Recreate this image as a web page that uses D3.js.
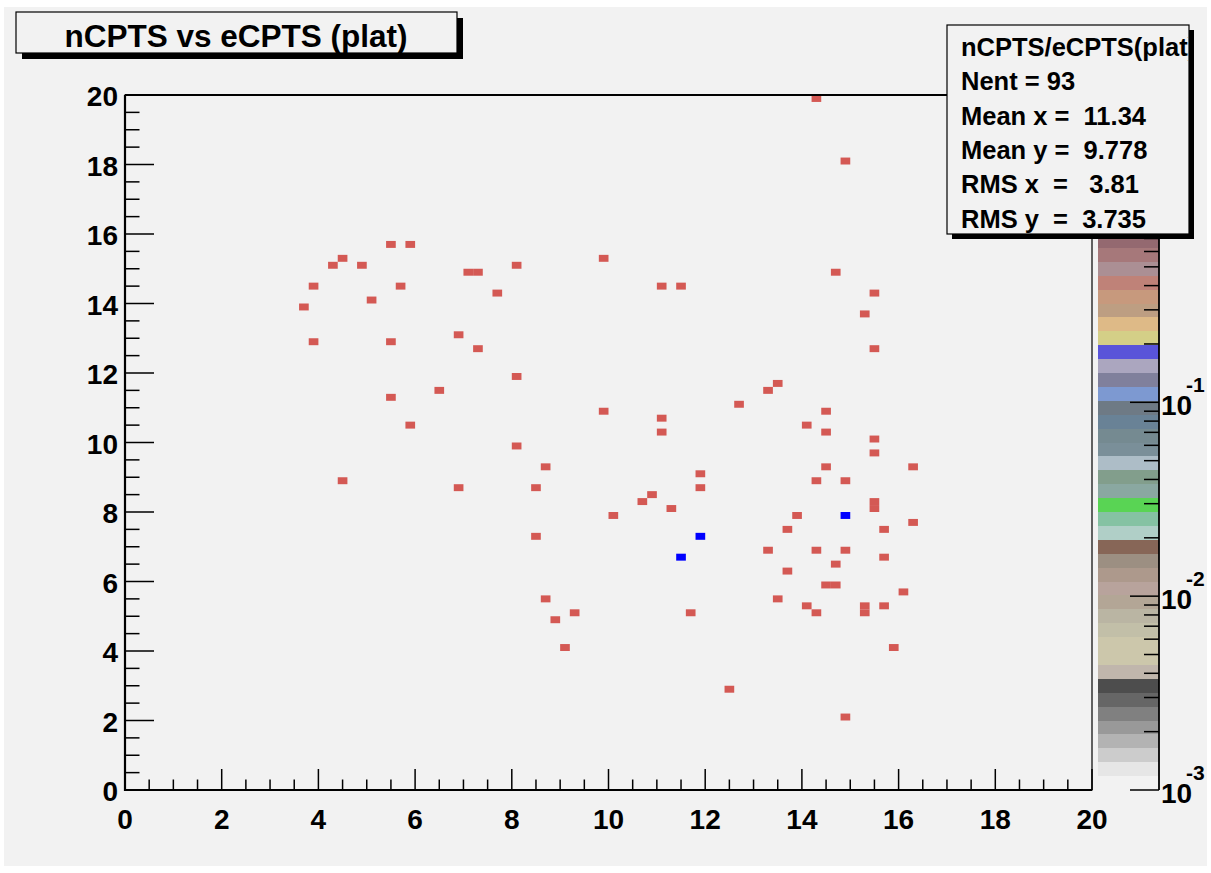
<!DOCTYPE html>
<html><head><meta charset="utf-8">
<script src="https://cdn.jsdelivr.net/npm/d3@7"></script>
<style>
body{margin:0;background:#fff}
text{font-family:"Liberation Sans",Arial,Helvetica,sans-serif;font-weight:bold;fill:#000}
</style>
</head><body>
<svg id="c" width="1211" height="873"></svg>
<script>
// ---- data: bin centres (bin width 0.2 x 0.2) and bin contents ----
const binX = [5.5,5.9,4.5,4.3,4.9,7.1,7.3,8.1,9.9,3.9,5.7,5.1,3.7,7.7,6.9,3.9,5.5,7.3,8.1,6.5,5.5,9.9,5.9,8.1,8.7,4.5,6.9,8.5,
  14.7,11.1,11.5,15.5,15.3,15.5,13.5,13.3,12.7,14.5,11.1,14.1,11.1,14.5,15.5,15.5,14.5,16.3,11.9,11.9,14.3,14.9,10.9,
  10.7,11.3,15.5,15.5,10.1,13.9,16.3,13.7,15.7,8.5,13.3,14.3,14.9,14.7,15.7,13.7,14.5,14.7,16.1,8.7,13.5,14.1,14.3,15.3,15.3,15.7,9.3,11.7,8.9,9.1,15.9,12.5,14.9,
  14.3,14.9,
  14.9,11.9,11.5];
const binY = [15.7,15.7,15.3,15.1,15.1,14.9,14.9,15.1,15.3,14.5,14.5,14.1,13.9,14.3,13.1,12.9,12.9,12.7,11.9,11.5,11.3,10.9,10.5,9.9,9.3,8.9,8.7,8.7,
  14.9,14.5,14.5,14.3,13.7,12.7,11.7,11.5,11.1,10.9,10.7,10.5,10.3,10.3,10.1,9.7,9.3,9.3,9.1,8.7,8.9,8.9,8.5,
  8.3,8.1,8.3,8.1,7.9,7.9,7.7,7.5,7.5,7.3,6.9,6.9,6.9,6.5,6.7,6.3,5.9,5.9,5.7,5.5,5.5,5.3,5.1,5.3,5.1,5.3,5.1,5.1,4.9,4.1,4.1,2.9,2.1,
  19.9,18.1,
  7.9,7.3,6.7];
const binCount = binX.map((d,i)=> i >= binX.length-3 ? 2 : 1);

const xTickValues = [0,2,4,6,8,10,12,14,16,18,20];
const yTickValues = [0,2,4,6,8,10,12,14,16,18,20];
const zDecades = [-3,-2,-1,0];
const zLabelDecades = [-3,-2,-1];
const zRange = [0.001, 3.85];
const titleText = "nCPTS vs eCPTS (plat)";
const statsLines = ["nCPTS/eCPTS(plat)","Nent = 93","Mean x =  11.34","Mean y =  9.778","RMS x  =   3.81","RMS y  =  3.735"];
// ROOT legacy 50-colour palette
const paletteColors = ["#f2f2f2","#e6e6e6","#cccccc","#b3b3b3","#999999","#808080","#666666","#4d4d4d",
  "rgb(192,182,172)","rgb(204,199,171)","rgb(204,199,171)","rgb(194,191,168)","rgb(186,181,163)","rgb(179,166,150)",
  "rgb(184,163,156)","rgb(173,153,140)","rgb(156,143,130)","rgb(135,102,87)","rgb(176,207,199)","rgb(133,194,163)",
  "rgb(89,212,84)","rgb(138,168,161)","rgb(130,158,140)","rgb(173,189,199)","rgb(122,143,153)","rgb(117,138,145)",
  "rgb(105,130,150)","rgb(110,122,133)","rgb(125,153,209)","rgb(128,128,156)","rgb(171,166,191)","rgb(89,84,217)",
  "rgb(212,207,135)","rgb(222,186,135)","rgb(189,158,130)","rgb(199,153,125)","rgb(191,130,120)","rgb(171,143,148)",
  "rgb(166,120,122)","rgb(148,105,112)","rgb(207,94,97)","rgb(212,89,84)","#ff0000","#00ffff","#ff00ff","#ffff00",
  "#0000ff","#00ff00","rgb(120,120,120)","#000000"];

// ---- drawing ----
const svg = d3.select("#c");
const bg = "#f2f2f2";
svg.append("rect").attr("x",4).attr("y",7).attr("width",1203).attr("height",859).attr("fill",bg);

const x = d3.scaleLinear().domain([0,20]).range([125,1092]);
const y = d3.scaleLinear().domain([0,20]).range([790,95]);
const z = d3.scaleLog().domain(zRange).range([790,95]);
const lmin = Math.log10(zRange[0]), lmax = Math.log10(zRange[1]);
const colorOf = v => {
  let k = Math.floor(50*(Math.log10(v)-lmin)/(lmax-lmin));
  k = Math.max(0, Math.min(49, k));
  return paletteColors[k];
};

// bins
const bins = binX.map((d,i)=>({x:d, y:binY[i], c:binCount[i]}));
svg.append("g").selectAll("rect").data(bins).join("rect")
  .attr("x", d=>x(d.x-0.1)).attr("width", d=>x(d.x+0.1)-x(d.x-0.1))
  .attr("y", d=>y(d.y+0.1)).attr("height", d=>y(d.y-0.1)-y(d.y+0.1))
  .attr("fill", d=>colorOf(d.c));

// frame
svg.append("rect").attr("x",x(0)).attr("y",y(20)).attr("width",x(20)-x(0)).attr("height",y(0)-y(20))
  .attr("fill","none").attr("stroke","#000").attr("stroke-width",1.2);
svg.append("line").attr("x1",x(0)).attr("x2",x(20)).attr("y1",y(20)).attr("y2",y(20)).attr("stroke","#000").attr("stroke-width",2);

// x axis
const gx = svg.append("g");
gx.append("line").attr("x1",x(0)-1).attr("x2",x(20)).attr("y1",y(0)).attr("y2",y(0)).attr("stroke","#000").attr("stroke-width",2.2);
const xMinor = d3.range(0,20.01,0.5);
gx.selectAll("line.t").data(xMinor).join("line").attr("class","t")
  .attr("x1",d=>x(d)).attr("x2",d=>x(d)).attr("y1",y(0))
  .attr("y2",d=> (Math.abs(d/2-Math.round(d/2))<1e-6) ? y(0)-21 : y(0)-10.5)
  .attr("stroke","#000").attr("stroke-width",1.5);
gx.selectAll("text").data(xTickValues).join("text")
  .attr("x",d=>x(d)).attr("y",829).attr("text-anchor","middle").attr("font-size",28).text(d=>d);

// y axis
const gy = svg.append("g");
gy.append("line").attr("x1",x(0)).attr("x2",x(0)).attr("y1",y(0)+1).attr("y2",y(20)).attr("stroke","#000").attr("stroke-width",2.2);
const yMinor = d3.range(0,20.01,0.5);
gy.selectAll("line.t").data(yMinor).join("line").attr("class","t")
  .attr("y1",d=>y(d)).attr("y2",d=>y(d)).attr("x1",x(0))
  .attr("x2",d=> (Math.abs(d/2-Math.round(d/2))<1e-6) ? x(0)+29 : x(0)+14.5)
  .attr("stroke","#000").attr("stroke-width",1.5);
gy.selectAll("text").data(yTickValues).join("text")
  .attr("x",118).attr("y",d=>y(d)+11).attr("text-anchor","end").attr("font-size",28).text(d=>d);

// palette
const gp = svg.append("g");
gp.selectAll("rect").data(paletteColors).join("rect")
  .attr("x",1098).attr("width",1159-1098)
  .attr("y",(d,i)=>z(Math.pow(10, lmin+(i+1)*(lmax-lmin)/50)))
  .attr("height",(d,i)=>z(Math.pow(10, lmin+i*(lmax-lmin)/50))-z(Math.pow(10, lmin+(i+1)*(lmax-lmin)/50)))
  .attr("fill",d=>d).attr("shape-rendering","crispEdges");
gp.append("line").attr("x1",1159).attr("x2",1159).attr("y1",z(zRange[0])).attr("y2",z(zRange[1])).attr("stroke","#000").attr("stroke-width",1.8);
const zMinor = [];
zDecades.forEach(e=>{ for(let m=2;m<=9;m++){ const v=m*Math.pow(10,e); if(v<=zRange[1]) zMinor.push(v);} });
gp.selectAll("line.mi").data(zMinor).join("line").attr("class","mi")
  .attr("x1",1144).attr("x2",1159).attr("y1",d=>z(d)).attr("y2",d=>z(d)).attr("stroke","#000").attr("stroke-width",1.5);
gp.selectAll("line.ma").data(zDecades).join("line").attr("class","ma")
  .attr("x1",1130).attr("x2",1159).attr("y1",d=>z(Math.pow(10,d))).attr("y2",d=>z(Math.pow(10,d))).attr("stroke","#000").attr("stroke-width",1.5);
const zl = gp.selectAll("g.zl").data(zLabelDecades).join("g").attr("class","zl");
zl.append("text").attr("x",1161).attr("y",d=>z(Math.pow(10,d))+13).attr("font-size",28).text("10");
zl.append("text").attr("x",1186).attr("y",d=>z(Math.pow(10,d))-10).attr("font-size",21).text(d=>String(d));

// title box
svg.append("rect").attr("x",22).attr("y",18).attr("width",441).attr("height",41).attr("fill","#000");
svg.append("rect").attr("x",16).attr("y",12).attr("width",441).attr("height",41).attr("fill",bg).attr("stroke","#000").attr("stroke-width",1.2);
svg.append("text").attr("x",236).attr("y",47).attr("text-anchor","middle").attr("font-size",31.5).text(titleText);

// stats box
svg.append("rect").attr("x",952).attr("y",30).attr("width",242).attr("height",209).attr("fill","#000");
svg.append("rect").attr("x",947).attr("y",25).attr("width",242).attr("height",209).attr("fill",bg).attr("stroke","#000").attr("stroke-width",1.2);
svg.append("clipPath").attr("id","sc").append("rect").attr("x",947).attr("y",25).attr("width",241).attr("height",209);
svg.append("g").attr("clip-path","url(#sc)").selectAll("text").data(statsLines).join("text")
  .attr("x",961).attr("y",(d,i)=>56+i*34.3).attr("font-size",25.5).style("white-space","pre").text(d=>d);
</script>
</body></html>
